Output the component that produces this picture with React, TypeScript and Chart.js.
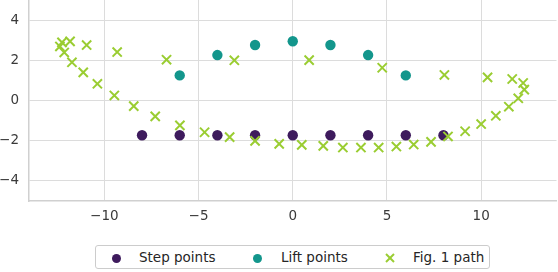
import React, { useEffect, useRef } from "react";
import { Chart, registerables } from "chart.js";

Chart.register(...registerables);

const stepX = [-8, -6, -4, -2, 0, 2, 4, 6, 8];
const stepY = [-1.73, -1.73, -1.73, -1.73, -1.73, -1.73, -1.73, -1.73, -1.73];

const liftX = [-6, -4, -2, 0, 2, 4, 6];
const liftY = [1.25, 2.26, 2.76, 2.95, 2.76, 2.26, 1.25];

const pathX = [
  12.23, 11.65, 10.34, 8.05, 4.75, 0.87, -3.1, -6.7, -9.32, -10.94, -11.82, -12.25,
  -12.36, -12.13, -11.72, -11.12, -10.37, -9.47, -8.44, -7.3, -5.99, -4.68, -3.35, -2.0,
  -0.72, 0.48, 1.62, 2.66, 3.62, 4.56, 5.5, 6.42, 7.34, 8.24, 9.15, 10.0, 10.78, 11.47,
  11.97, 12.29,
];
const pathY = [
  0.87, 1.07, 1.15, 1.27, 1.63, 2.01, 2.0, 2.03, 2.41, 2.76, 2.94, 2.89,
  2.69, 2.39, 1.9, 1.4, 0.83, 0.25, -0.28, -0.79, -1.24, -1.58, -1.82, -2.01,
  -2.16, -2.21, -2.26, -2.34, -2.34, -2.34, -2.29, -2.19, -2.06, -1.79, -1.53, -1.17, -0.76, -0.31,
  0.11, 0.54,
];

const xTicks = [-10, -5, 0, 5, 10];
const yTicks = [-4, -2, 0, 2, 4];

const seriesNames = ["Step points", "Lift points", "Fig. 1 path"];
const colors = ["#3e1b5d", "#13968c", "#9acd32"];

const FONT = "'DejaVu Sans', sans-serif";

function pts(xs: number[], ys: number[]) {
  return xs.map((x, i) => ({ x, y: ys[i] }));
}

function fmt(v: number) {
  return v < 0 ? "\u2212" + Math.abs(v) : String(v);
}

export default function App() {
  const ref = useRef<HTMLCanvasElement | null>(null);

  useEffect(() => {
    if (!ref.current) return;
    const chart = new Chart(ref.current, {
      type: "scatter",
      data: {
        datasets: [
          {
            label: seriesNames[0],
            data: pts(stepX, stepY),
            pointStyle: "circle",
            pointRadius: 5.2,
            pointBackgroundColor: colors[0],
            pointBorderWidth: 0,
            order: 2,
          },
          {
            label: seriesNames[1],
            data: pts(liftX, liftY),
            pointStyle: "circle",
            pointRadius: 5.2,
            pointBackgroundColor: colors[1],
            pointBorderWidth: 0,
            order: 1,
          },
          {
            label: seriesNames[2],
            data: pts(pathX, pathY),
            pointStyle: "crossRot",
            pointRadius: 6.5,
            pointBorderColor: colors[2],
            pointBorderWidth: 2,
            order: 0,
          },
        ],
      },
      options: {
        animation: false,
        responsive: false,
        maintainAspectRatio: false,
        layout: { autoPadding: false, padding: { left: 0, right: 1.5, top: 0, bottom: 0 } },
        plugins: {
          legend: { display: false },
          tooltip: { enabled: false },
        },
        scales: {
          x: {
            type: "linear",
            min: -14,
            max: 14,
            afterBuildTicks: (s: any) => {
              s.ticks = xTicks.map((v) => ({ value: v }));
            },
            afterFit: (s: any) => {
              s.height = 71;
              s.paddingLeft = 0;
              s.paddingRight = 0;
              s.paddingTop = 0;
              s.paddingBottom = 0;
            },
            grid: { color: "#dcdcdc", lineWidth: 1, drawTicks: false },
            border: { color: "#d0d0d0", width: 1.5 },
            ticks: {
              padding: 7,
              color: "#3a3a3a",
              font: { family: FONT, size: 13.5 },
              maxRotation: 0,
              callback: (v: any) => fmt(Number(v)),
            },
          },
          y: {
            type: "linear",
            min: -5,
            max: 5,
            afterBuildTicks: (s: any) => {
              s.ticks = yTicks.map((v) => ({ value: v }));
            },
            afterFit: (s: any) => {
              s.width = 29;
              s.paddingLeft = 0;
              s.paddingRight = 0;
              s.paddingTop = 0;
              s.paddingBottom = 0;
            },
            grid: { color: "#dcdcdc", lineWidth: 1, drawTicks: false },
            border: { color: "#d0d0d0", width: 1.5 },
            ticks: {
              padding: 10,
              color: "#3a3a3a",
              font: { family: FONT, size: 13.5 },
              callback: (v: any) => fmt(Number(v)),
            },
          },
        },
      },
    });
    return () => chart.destroy();
  }, []);

  const textStyle: React.CSSProperties = {
    position: "absolute",
    top: 3,
    fontFamily: FONT,
    fontSize: 13.5,
    color: "#262626",
    whiteSpace: "nowrap",
    lineHeight: "16px",
  };

  return (
    <div style={{ position: "absolute", left: 0, top: 0, width: 558, height: 272, background: "#fff" }}>
      <canvas ref={ref} width={558} height={272} style={{ display: "block" }} />
      <div
        style={{
          position: "absolute",
          left: 95,
          top: 245,
          width: 393,
          height: 22,
          border: "1px solid #cccccc",
          borderRadius: 3,
          background: "#fff",
        }}
      >
        <div style={{ position: "absolute", left: 15.5, top: 7.5, width: 9, height: 9, borderRadius: "50%", background: colors[0] }} />
        <div style={{ ...textStyle, left: 43 }}>{seriesNames[0]}</div>
        <div style={{ position: "absolute", left: 156.5, top: 7.5, width: 9, height: 9, borderRadius: "50%", background: colors[1] }} />
        <div style={{ ...textStyle, left: 185 }}>{seriesNames[1]}</div>
        <svg style={{ position: "absolute", left: 289, top: 7 }} width={10} height={10}>
          <line x1={1} y1={1} x2={9} y2={9} stroke={colors[2]} strokeWidth={2} />
          <line x1={9} y1={1} x2={1} y2={9} stroke={colors[2]} strokeWidth={2} />
        </svg>
        <div style={{ ...textStyle, left: 317 }}>{seriesNames[2]}</div>
      </div>
    </div>
  );
}
